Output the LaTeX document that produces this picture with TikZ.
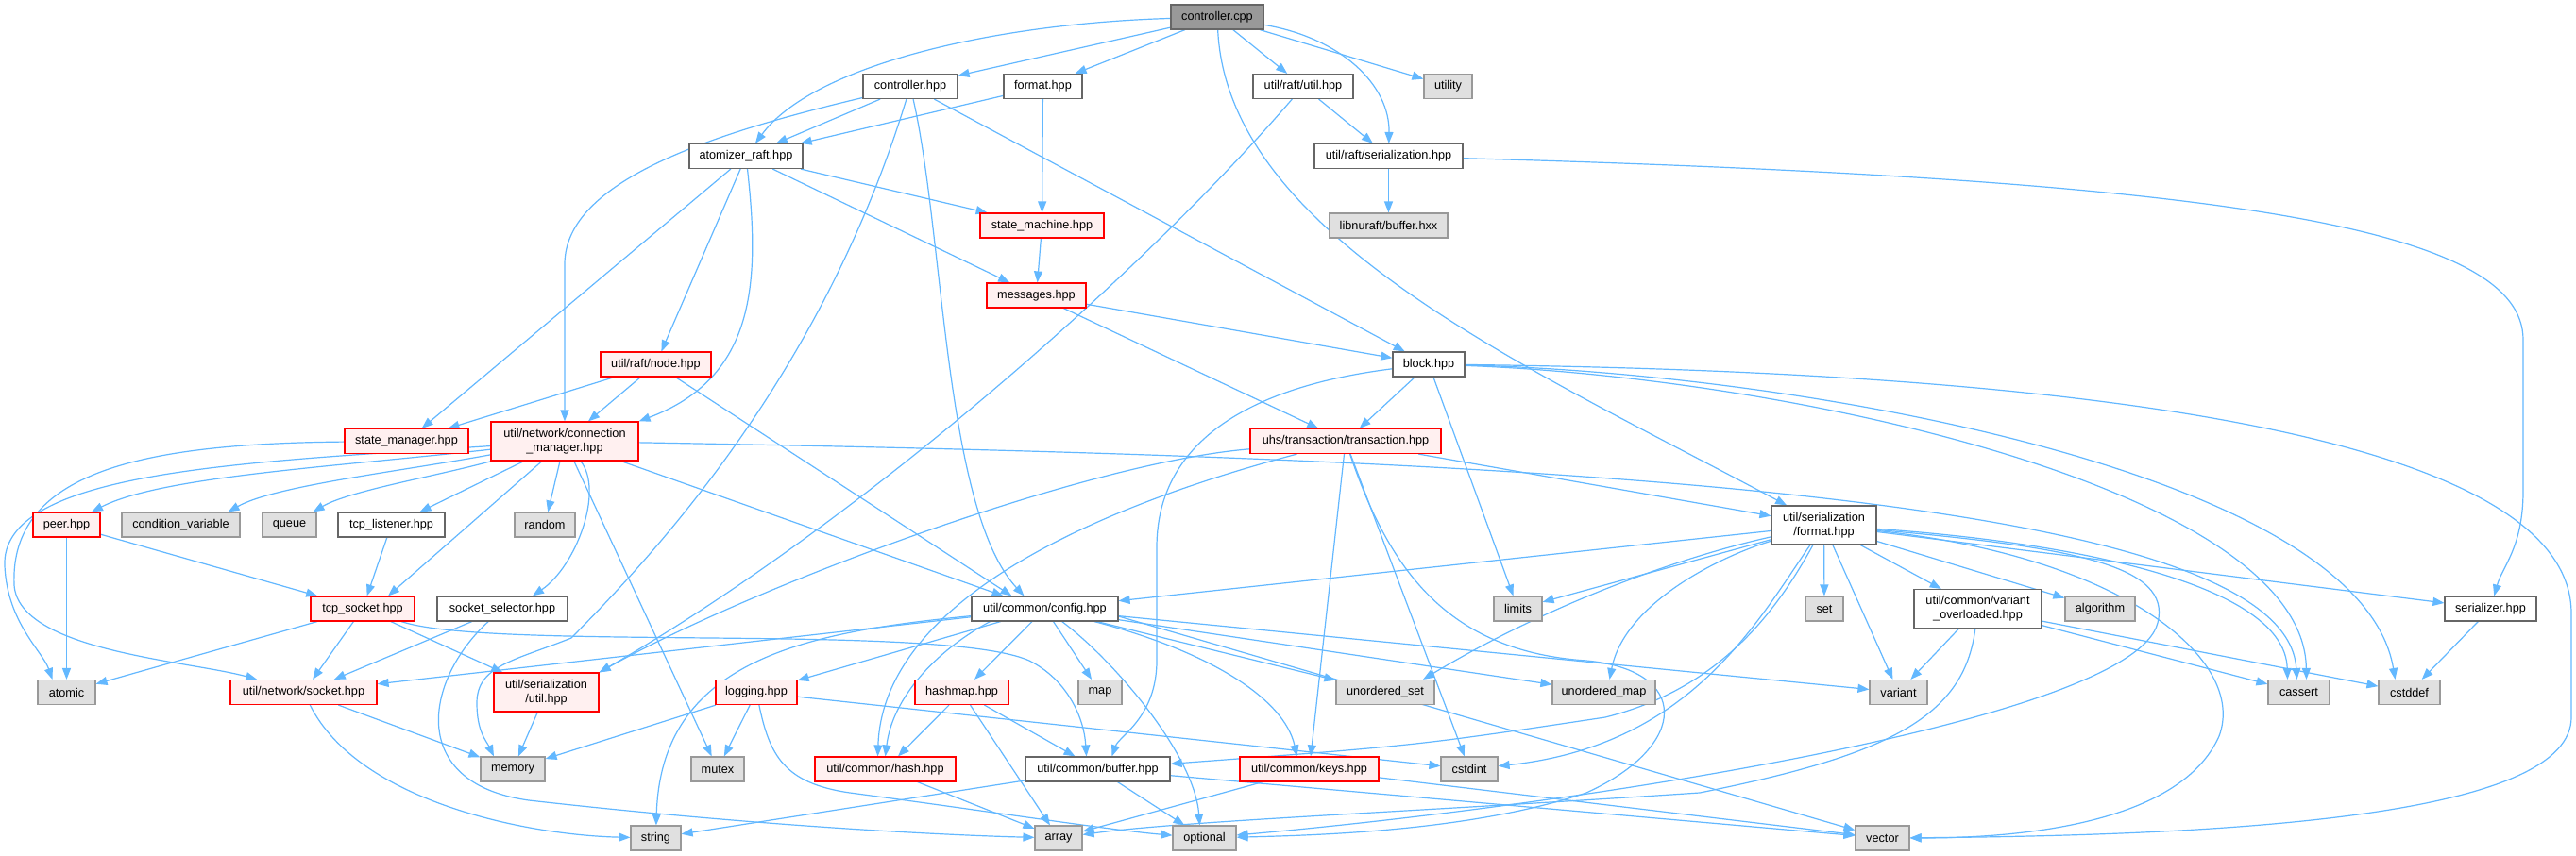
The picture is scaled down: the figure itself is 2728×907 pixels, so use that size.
\documentclass[tikz,border=0pt]{standalone}
\usepackage{fontspec}
\setmainfont{Liberation Sans}
\usetikzlibrary{arrows.meta}
\definecolor{edgec}{HTML}{63B8FF}
\definecolor{bdc}{HTML}{666666}
\definecolor{sysb}{HTML}{999999}
\definecolor{sysf}{HTML}{E0E0E0}
\definecolor{trf}{HTML}{FFF0F0}
\definecolor{trb}{HTML}{FF0000}
\definecolor{rootf}{HTML}{999999}
\newcommand{\nodefnt}{\fontsize{12.7}{15}\selectfont}
\pgfdeclarelayer{bg}
\pgfdeclarelayer{edges}
\pgfsetlayers{bg,edges,main}
\begin{document}
\begin{tikzpicture}[x=1pt,y=-1pt,
  box/.style={draw, line width=1.15pt, minimum height=26pt, inner sep=0pt, font=\nodefnt, text=black, align=center},
  nd/.style={box, draw=bdc, fill=white},
  rt/.style={box, draw=bdc, fill=rootf},
  tr/.style={box, draw=trb, fill=trf},
  sy/.style={box, draw=sysb, fill=sysf},
  two/.style={minimum height=41pt},
  ed/.style={draw=edgec, line width=1.2pt, -{Triangle[length=12pt,width=9pt]}}]
\begin{pgfonlayer}{bg}
\fill[white] (0,0) rectangle (2728,907);
\end{pgfonlayer}
\useasboundingbox (0,0) rectangle (2728,907);

% nodes
\node[rt, minimum width=98pt] (cpp) at (1289,18) {controller.cpp};
\node[nd, minimum width=100pt] (ch) at (964,91.5) {controller.hpp};
\node[nd, minimum width=83pt] (fh) at (1104.5,91.5) {format.hpp};
\node[nd, minimum width=106pt] (ru) at (1380,91.5) {util/raft/util.hpp};
\node[sy, minimum width=51pt] (utility) at (1533.5,91.5) {utility};
\node[nd, minimum width=120pt] (ar) at (790,165.5) {atomizer\_raft.hpp};
\node[nd, minimum width=157pt] (rs) at (1470.5,165.5) {util/raft/serialization.hpp};
\node[tr, minimum width=131pt] (sm) at (1103.5,239) {state\_machine.hpp};
\node[sy, minimum width=125pt] (lb) at (1470.5,239) {libnuraft/buffer.hxx};
\node[tr, minimum width=105pt] (msg) at (1097.5,313) {messages.hpp};
\node[tr, minimum width=117pt] (node) at (694.5,386) {util/raft/node.hpp};
\node[nd, minimum width=76pt] (block) at (1513,386) {block.hpp};
\node[tr, minimum width=131pt] (smgr) at (430.5,467.5) {state\_manager.hpp};
\node[tr, two, minimum width=156pt] (cm) at (598,467.5) {util/network/connection\\\_manager.hpp};
\node[tr, minimum width=202pt] (tx) at (1425,467.5) {uhs/transaction/transaction.hpp};
\node[nd, two, minimum width=111pt] (sf) at (1931.5,556.5) {util/serialization\\/format.hpp};
\node[tr, minimum width=71pt] (peer) at (70.5,556) {peer.hpp};
\node[sy, minimum width=125pt] (cv) at (191.5,556) {condition\_variable};
\node[sy, minimum width=57pt] (queue) at (306.5,556) {queue};
\node[nd, minimum width=113pt] (tl) at (414.5,556) {tcp\_listener.hpp};
\node[sy, minimum width=64pt] (random) at (577,556) {random};
\node[tr, minimum width=110pt] (ts) at (384,645) {tcp\_socket.hpp};
\node[nd, minimum width=138pt] (ss) at (532,645) {socket\_selector.hpp};
\node[nd, minimum width=155pt] (cfg) at (1106.5,645) {util/common/config.hpp};
\node[sy, minimum width=51pt] (limits) at (1607.5,645) {limits};
\node[sy, minimum width=40pt] (set) at (1932,645) {set};
\node[nd, two, minimum width=135pt] (vo) at (2094.5,645) {util/common/variant\\\_overloaded.hpp};
\node[sy, minimum width=74pt] (algo) at (2224,645) {algorithm};
\node[nd, minimum width=97pt] (ser) at (2637.5,645) {serializer.hpp};
\node[sy, minimum width=61pt] (atomic) at (70.5,733.5) {atomic};
\node[tr, minimum width=155pt] (ns) at (321.5,733.5) {util/network/socket.hpp};
\node[tr, two, minimum width=111pt] (su) at (578.5,733.5) {util/serialization\\/util.hpp};
\node[tr, minimum width=86pt] (log) at (801,733.5) {logging.hpp};
\node[tr, minimum width=99pt] (hm) at (1018.5,733.5) {hashmap.hpp};
\node[sy, minimum width=46pt] (map) at (1165,733.5) {map};
\node[sy, minimum width=104pt] (uset) at (1467,733.5) {unordered\_set};
\node[sy, minimum width=109pt] (umap) at (1698.5,733.5) {unordered\_map};
\node[sy, minimum width=61pt] (variant) at (2010.5,733.5) {variant};
\node[sy, minimum width=65pt] (cassert) at (2434.5,733.5) {cassert};
\node[sy, minimum width=65pt] (cstddef) at (2551.5,733.5) {cstddef};
\node[sy, minimum width=68pt] (memory) at (543,815) {memory};
\node[sy, minimum width=56pt] (mutex) at (760,815) {mutex};
\node[tr, minimum width=149pt] (hash) at (937.5,815) {util/common/hash.hpp};
\node[nd, minimum width=153pt] (buf) at (1162.5,815) {util/common/buffer.hpp};
\node[tr, minimum width=147pt] (keys) at (1386.5,815) {util/common/keys.hpp};
\node[sy, minimum width=60pt] (cstdint) at (1556,815) {cstdint};
\node[sy, minimum width=53pt] (string) at (694.5,888) {string};
\node[sy, minimum width=50pt] (array) at (1121,888) {array};
\node[sy, minimum width=67pt] (optional) at (1275.5,888) {optional};
\node[sy, minimum width=57pt] (vector) at (1993.5,888) {vector};

\begin{pgfonlayer}{edges}
% controller.cpp
\draw[ed] (cpp) .. controls (1050,25) and (860,70) .. (ar);
\draw[ed] (cpp) -- (ch);
\draw[ed] (cpp) -- (fh);
\draw[ed] (cpp) -- (ru);
\draw[ed] (cpp) -- (utility);
\draw[ed] (cpp) .. controls (1420,40) and (1472,90) .. (rs);
\draw[ed] (cpp) .. controls (1300,250) and (1620,390) .. (sf);
% controller.hpp
\draw[ed] (ch) -- (ar);
\draw[ed] (ch) .. controls (760,140) and (598,190) .. (598,280) -- (cm);
\draw[ed] (ch) .. controls (870,400) and (690,590) .. (605,676) .. controls (545,700) and (505,705) .. (505,745) .. controls (505,775) and (515,785) .. ([xshift=-20pt]memory.north);
\draw[ed] (ch) .. controls (1000,250) and (1000,540) .. ([xshift=-22pt]cfg.north);
\draw[ed] (ch) -- (block);
% format.hpp
\draw[ed] (fh) -- (ar);
\draw[ed] (fh) -- (sm);
% util/raft/util.hpp
\draw[ed] (ru) -- (rs);
\draw[ed] (ru) .. controls (1200,300) and (900,560) .. (su.north east);
% util/raft/serialization.hpp
\draw[ed] (rs) -- (lb);
\draw[ed] (rs) .. controls (2350,190) and (2672,240) .. (2672,360) -- (2672,520) .. controls (2672,580) and (2650,600) .. (ser);
% atomizer_raft.hpp
\draw[ed] (ar) -- (smgr);
\draw[ed] (ar) -- (node);
\draw[ed] (ar) .. controls (805,300) and (800,400) .. (cm.north east);
\draw[ed] (ar) -- (sm);
\draw[ed] (ar) -- (msg);
% state_machine / messages
\draw[ed] (sm) -- (msg);
\draw[ed] (msg) -- (block);
\draw[ed] (msg) -- (tx);
% node
\draw[ed] (node) -- (smgr);
\draw[ed] (node) -- (cm);
\draw[ed] (node) -- ([xshift=-35pt]cfg.north);
% block
\draw[ed] (block) -- (tx);
\draw[ed] (block) .. controls (1320,410) and (1225,470) .. (1225,580) -- (1225,700) .. controls (1225,760) and (1185,780) .. ([xshift=15pt]buf.north);
\draw[ed] (block) -- (limits);
\draw[ed] (block) .. controls (1900,400) and (2440,520) .. ([xshift=8pt]cassert.north);
\draw[ed] (block) .. controls (1900,395) and (2500,500) .. ([xshift=-15pt]cstddef.north);
\draw[ed] (block) .. controls (2300,395) and (2723,480) .. (2723,650) -- (2723,760) .. controls (2723,860) and (2400,885) .. (vector);
% state_manager
\draw[ed] (smgr) .. controls (150,470) and (10,500) .. (15,620) .. controls (20,690) and (200,700) .. (ns);
% connection_manager
\draw[ed] (cm) .. controls (350,495) and (170,505) .. (peer);
\draw[ed] (cm) .. controls (420,500) and (290,515) .. ([xshift=50pt]cv.north);
\draw[ed] (cm) .. controls (460,505) and (370,520) .. ([xshift=25pt]queue.north);
\draw[ed] (cm) -- ([xshift=30pt]tl.north);
\draw[ed] (cm) -- (random);
\draw[ed] (cm) -- ([xshift=27pt]ts.north);
\draw[ed] (cm) .. controls (640,520) and (610,600) .. ([xshift=32pt]ss.north);
\draw[ed] (cm) -- (mutex);
\draw[ed] (cm) -- ([xshift=-44pt]cfg.north);
\draw[ed] (cm) .. controls (1600,485) and (2420,520) .. ([xshift=-2pt]cassert.north);
\draw[ed] (cm) .. controls (250,490) and (0,500) .. (5,600) .. controls (8,660) and (45,690) .. ([xshift=-15pt]atomic.north);
% peer, tcp_listener
\draw[ed] (peer) -- (atomic);
\draw[ed] (peer) -- (ts);
\draw[ed] (tl) -- (ts);
% tcp_socket
\draw[ed] (ts) -- (atomic);
\draw[ed] (ts) -- (ns);
\draw[ed] (ts) -- (su);
\draw[ed] (ts) .. controls (520,690) and (1000,660) .. (1090,700) .. controls (1130,720) and (1148,760) .. ([xshift=-12pt]buf.north);
% socket_selector
\draw[ed] (ss) -- (ns);
\draw[ed] (ss) .. controls (450,720) and (430,830) .. (560,848) .. controls (800,875) and (1000,885) .. (array);
% socket.hpp, serialization/util.hpp
\draw[ed] (ns) -- (memory);
\draw[ed] (ns) .. controls (380,850) and (560,885) .. (string);
\draw[ed] (su) -- (memory);
% transaction
\draw[ed] (tx) -- (sf);
\draw[ed] (tx) -- (keys);
\draw[ed] (tx) -- (cstdint);
\draw[ed] (tx) .. controls (1470,600) and (1530,690) .. (1680,700) .. controls (1790,710) and (1790,790) .. (1680,840) .. controls (1560,880) and (1400,885) .. (optional);
\draw[ed] (tx) .. controls (1150,540) and (935,640) .. ([xshift=-8pt]hash.north);
\draw[ed] (tx) .. controls (1150,490) and (800,620) .. (su.north east);
% config
\draw[ed] (cfg) -- (ns);
\draw[ed] (cfg) -- (log);
\draw[ed] (cfg) -- (hm);
\draw[ed] (cfg) -- (map);
\draw[ed] (cfg) -- (uset);
\draw[ed] (cfg) -- (umap);
\draw[ed] ([xshift=-58pt]cfg.south) .. controls (990,690) and (945,740) .. (hash.north);
\draw[ed] (cfg) .. controls (1280,690) and (1360,740) .. ([xshift=-13pt]keys.north);
\draw[ed] (cfg) .. controls (1180,700) and (1265,800) .. ([xshift=-5pt]optional.north);
\draw[ed] (cfg) .. controls (850,670) and (700,700) .. (string);
\draw[ed] ([yshift=-8pt]cfg.east) -- (vector);
\draw[ed] (cfg) -- (variant);
% logging
\draw[ed] (log) -- (memory);
\draw[ed] (log) -- (mutex);
\draw[ed] (log) -- (cstdint);
\draw[ed] (log) .. controls (815,800) and (830,830) .. (900,840) .. controls (1050,860) and (1180,880) .. (optional);
% hashmap, hash, buffer, keys
\draw[ed] (hm) -- (hash);
\draw[ed] (hm) -- (array);
\draw[ed] (hm) -- (buf);
\draw[ed] (hash) -- (array);
\draw[ed] (buf) -- (string);
\draw[ed] (buf) -- (optional);
\draw[ed] (buf) -- (vector);
\draw[ed] (keys) -- (array);
\draw[ed] (keys) -- (vector);
% serialization/format.hpp
\draw[ed] (sf) -- (cfg);
\draw[ed] (sf) -- (limits);
\draw[ed] (sf) -- (set);
\draw[ed] (sf) -- (variant);
\draw[ed] (sf) -- (vo);
\draw[ed] (sf) -- (algo);
\draw[ed] (sf) -- (ser);
\draw[ed] (sf) .. controls (2200,575) and (2420,620) .. ([xshift=-12pt]cassert.north);
\draw[ed] (sf) .. controls (2250,590) and (2380,700) .. (2350,780) .. controls (2310,870) and (2150,888) .. (vector);
\draw[ed] (sf) .. controls (2200,580) and (2300,600) .. (2285,660) .. controls (2260,760) and (1700,850) .. (optional);
\draw[ed] (sf) .. controls (1780,590) and (1640,640) .. ([xshift=40pt]uset.north);
\draw[ed] (sf) .. controls (1820,590) and (1720,640) .. ([xshift=6pt]umap.north);
\draw[ed] (sf) .. controls (1860,660) and (1790,790) .. (cstdint);
\draw[ed] (sf) .. controls (1880,650) and (1820,730) .. (1700,760) .. controls (1500,790) .. (buf);
% variant_overloaded, serializer
\draw[ed] (vo) -- (variant);
\draw[ed] (vo) -- (cassert);
\draw[ed] (vo) -- (cstddef);
\draw[ed] (vo) .. controls (2080,760) and (2000,800) .. (1800,840) .. controls (1500,860) and (1250,870) .. (array);
\draw[ed] (ser) -- (cstddef);
\end{pgfonlayer}
\end{tikzpicture}
\end{document}
